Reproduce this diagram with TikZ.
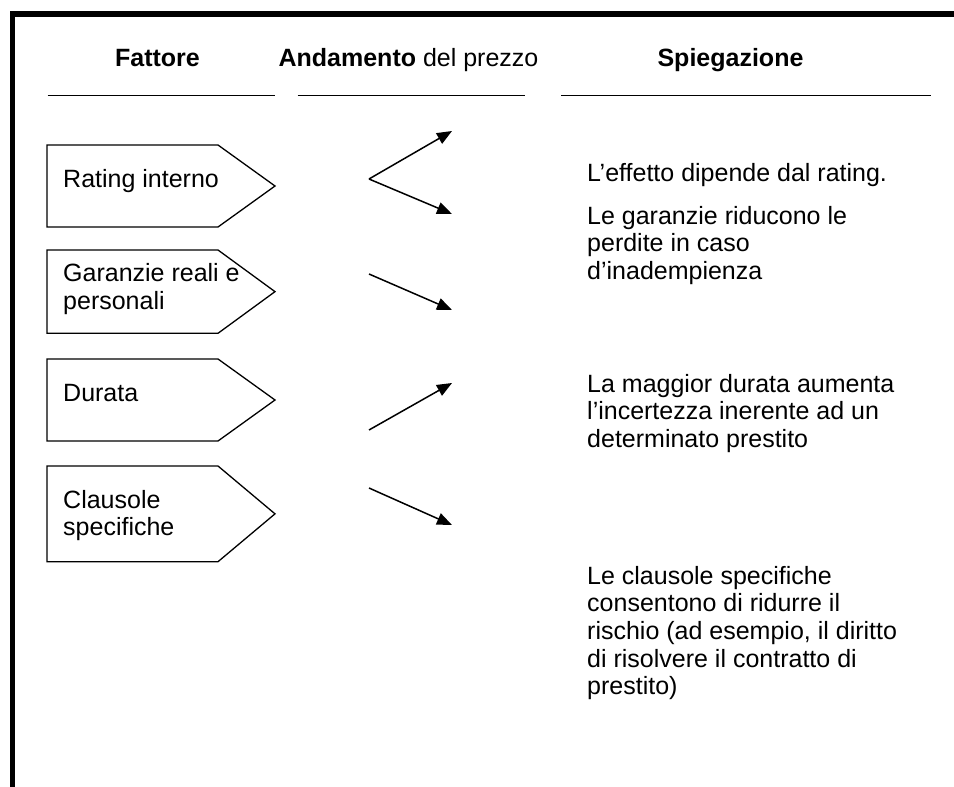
\documentclass[tikz,border=0pt]{standalone}
\usepackage{fontspec}
\setmainfont{Liberation Sans}
\usetikzlibrary{arrows.meta}
\newcommand\pentpath[2]{(47,#1) -- (218,#1) -- (275,{(#1+#2)/2}) -- (218,#2) -- (47,#2) -- cycle}
\begin{document}
\begin{tikzpicture}[x=1pt,y=-1pt,
  frame/.style={line width=5.3pt, line join=miter},
  rule/.style={line width=1.3pt},
  pbox/.style={line width=1.3pt, line join=miter},
  txt/.style={anchor=base west, inner sep=0pt, font=\fontsize{25}{27.7}\selectfont},
  head/.style={anchor=base, inner sep=0pt, font=\fontsize{25}{27.7}\selectfont},
  trend/.style={line width=1.5pt, -{Triangle[length=15pt,width=12pt]}}]
\useasboundingbox (0,0) rectangle (954,787);
% frame (cropped)
\coordinate (fb) at (12.5,787);
\coordinate (fc) at (12.5,14);
\coordinate (fr) at (954,14);
\draw[frame] (fb) -- (fc) -- (fr);
% headers
\node[head] (hF) at (157.5,66) {\textbf{Fattore}};
\node[head] (hA) at (408.5,66) {\textbf{Andamento} del prezzo};
\node[head] (hS) at (730.5,66) {\textbf{Spiegazione}};
\coordinate (r1a) at (47.7,95.7);  \coordinate (r1b) at (275,95.7);
\coordinate (r2a) at (297.7,95.7); \coordinate (r2b) at (525,95.7);
\coordinate (r3a) at (561,95.7);   \coordinate (r3b) at (931,95.7);
\draw[rule] (r1a) -- (r1b);
\draw[rule] (r2a) -- (r2b);
\draw[rule] (r3a) -- (r3b);
% factor boxes
\draw[pbox] \pentpath{145}{227};
\draw[pbox] \pentpath{250}{333.3};
\draw[pbox] \pentpath{359}{441};
\draw[pbox] \pentpath{466}{561.7};
\node[txt] (f1) at (63,187) {Rating interno};
\node[txt] (f2) at (63,281.7) {\vtop{\hbox{Garanzie reali e}\hbox{personali}}};
\node[txt] (f3) at (63,401.7) {Durata};
\node[txt] (f4) at (63,508) {\vtop{\hbox{Clausole}\hbox{specifiche}}};
% price trends
\coordinate (v1) at (369,179); \coordinate (u1) at (452,131); \coordinate (d1) at (452,214);
\coordinate (s2) at (369,274); \coordinate (e2) at (452,310);
\coordinate (s3) at (369,430); \coordinate (e3) at (452,383);
\coordinate (s4) at (369,488); \coordinate (e4) at (452,525);
\draw[trend] (v1) -- (u1);
\draw[trend] (v1) -- (d1);
\draw[trend] (s2) -- (e2);
\draw[trend] (s3) -- (e3);
\draw[trend] (s4) -- (e4);
% explanations
\node[txt] (x1) at (587,181) {L’effetto dipende dal rating.};
\node[txt] (x2) at (587,224) {\vtop{\hbox{Le garanzie riducono le}\hbox{perdite in caso}\hbox{d’inadempienza}}};
\node[txt] (x3) at (587,392) {\vtop{\hbox{La maggior durata aumenta}\hbox{l’incertezza inerente ad un}\hbox{determinato prestito}}};
\node[txt] (x4) at (587,584) {\vtop{\hbox{Le clausole specifiche}\hbox{consentono di ridurre il}\hbox{rischio (ad esempio, il diritto}\hbox{di risolvere il contratto di}\hbox{prestito)}}};
\end{tikzpicture}
\end{document}
